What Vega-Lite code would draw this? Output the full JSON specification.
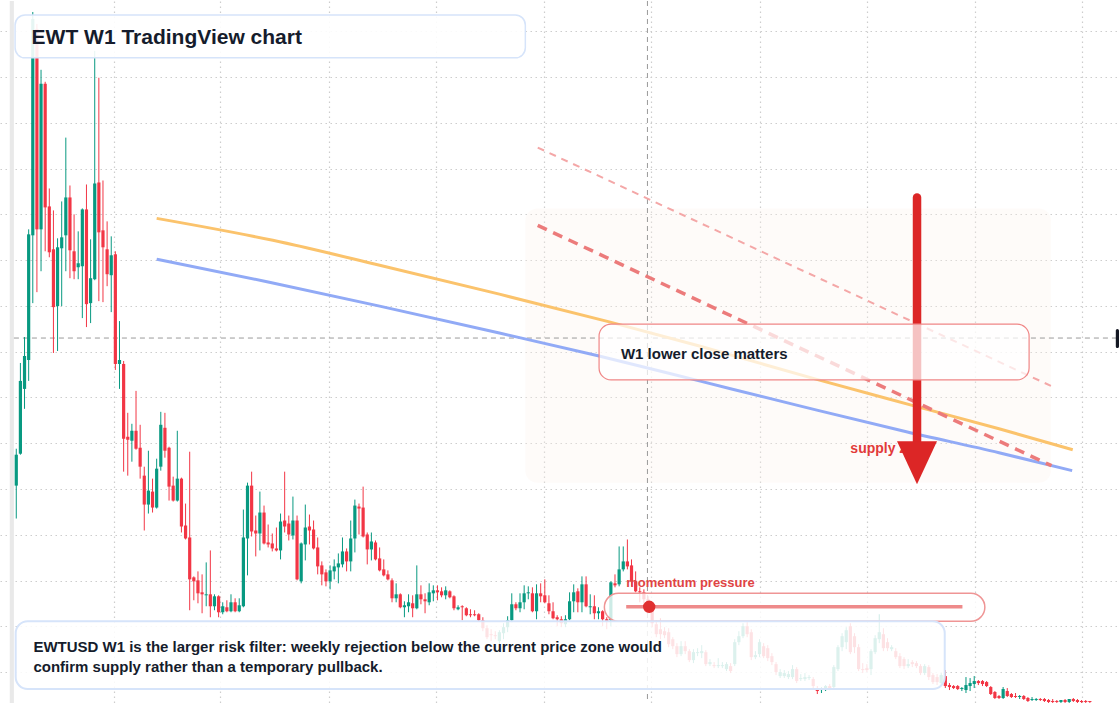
{
"$schema":"https://vega.github.io/schema/vega-lite/v6.json",
"width":1120,"height":704,"padding":0,
"autosize":{"type":"fit","contains":"padding"},
"background":"white",
"config":{"view":{"stroke":null},"axis":{"labels":false,"ticks":false,"domain":false,"grid":false}},
"datasets":{
"candles":[
{"d":"2020-07-20","o":2.18,"h":2.55,"l":1.85,"c":2.49},
{"d":"2020-07-27","o":2.50,"h":3.41,"l":2.49,"c":3.23},
{"d":"2020-08-03","o":3.15,"h":3.67,"l":2.95,"c":3.48},
{"d":"2020-08-10","o":3.44,"h":4.75,"l":3.23,"c":4.70},
{"d":"2020-08-17","o":4.69,"h":6.93,"l":4.01,"c":6.86},
{"d":"2020-08-24","o":6.76,"h":6.81,"l":4.12,"c":4.75},
{"d":"2020-08-31","o":4.75,"h":6.35,"l":4.33,"c":6.21},
{"d":"2020-09-07","o":6.21,"h":6.23,"l":4.53,"c":4.97},
{"d":"2020-09-14","o":4.98,"h":5.16,"l":4.47,"c":4.52},
{"d":"2020-09-21","o":4.55,"h":4.94,"l":3.51,"c":3.97},
{"d":"2020-09-28","o":3.98,"h":4.66,"l":3.53,"c":4.57},
{"d":"2020-10-05","o":4.56,"h":5.03,"l":3.98,"c":4.67},
{"d":"2020-10-12","o":4.69,"h":5.67,"l":4.33,"c":5.07},
{"d":"2020-10-19","o":5.07,"h":5.19,"l":4.26,"c":4.54},
{"d":"2020-10-26","o":4.53,"h":4.90,"l":4.25,"c":4.33},
{"d":"2020-11-02","o":4.37,"h":4.73,"l":4.25,"c":4.41},
{"d":"2020-11-09","o":4.38,"h":4.96,"l":3.86,"c":4.95},
{"d":"2020-11-16","o":4.95,"h":5.20,"l":3.77,"c":4.00},
{"d":"2020-11-23","o":4.01,"h":4.65,"l":3.81,"c":4.26},
{"d":"2020-11-30","o":4.25,"h":6.54,"l":4.24,"c":5.21},
{"d":"2020-12-07","o":5.22,"h":6.27,"l":4.03,"c":4.72},
{"d":"2020-12-14","o":4.74,"h":5.24,"l":4.02,"c":4.57},
{"d":"2020-12-21","o":4.55,"h":4.83,"l":4.18,"c":4.30},
{"d":"2020-12-28","o":4.29,"h":4.68,"l":3.92,"c":4.49},
{"d":"2021-01-04","o":4.50,"h":4.53,"l":3.34,"c":3.40},
{"d":"2021-01-11","o":3.40,"h":3.83,"l":3.15,"c":3.44},
{"d":"2021-01-18","o":3.40,"h":3.43,"l":2.32,"c":2.65},
{"d":"2021-01-25","o":2.67,"h":2.91,"l":2.28,"c":2.64},
{"d":"2021-02-01","o":2.63,"h":2.80,"l":2.42,"c":2.73},
{"d":"2021-02-08","o":2.73,"h":3.13,"l":2.54,"c":2.55},
{"d":"2021-02-15","o":2.56,"h":2.79,"l":2.25,"c":2.37},
{"d":"2021-02-22","o":2.28,"h":2.37,"l":1.73,"c":1.99},
{"d":"2021-03-01","o":1.99,"h":2.53,"l":1.90,"c":2.13},
{"d":"2021-03-08","o":2.12,"h":2.25,"l":1.91,"c":1.96},
{"d":"2021-03-15","o":1.96,"h":2.45,"l":1.95,"c":2.35},
{"d":"2021-03-22","o":2.37,"h":2.92,"l":2.33,"c":2.79},
{"d":"2021-03-29","o":2.76,"h":2.91,"l":2.46,"c":2.53},
{"d":"2021-04-05","o":2.56,"h":2.57,"l":2.03,"c":2.17},
{"d":"2021-04-12","o":2.18,"h":2.27,"l":2.02,"c":2.03},
{"d":"2021-04-19","o":2.03,"h":2.73,"l":2.02,"c":2.25},
{"d":"2021-04-26","o":2.25,"h":2.26,"l":1.71,"c":1.77},
{"d":"2021-05-03","o":1.78,"h":2.00,"l":1.64,"c":1.65},
{"d":"2021-05-10","o":1.66,"h":2.52,"l":0.93,"c":1.24},
{"d":"2021-05-17","o":1.26,"h":1.27,"l":1.03,"c":1.22},
{"d":"2021-05-24","o":1.23,"h":1.32,"l":1.00,"c":1.10},
{"d":"2021-05-31","o":1.11,"h":1.29,"l":0.90,"c":1.09},
{"d":"2021-06-07","o":1.08,"h":1.41,"l":0.97,"c":1.09},
{"d":"2021-06-14","o":1.09,"h":1.53,"l":0.86,"c":0.97},
{"d":"2021-06-21","o":0.97,"h":1.09,"l":0.93,"c":1.07},
{"d":"2021-06-28","o":1.07,"h":1.08,"l":0.86,"c":0.91},
{"d":"2021-07-05","o":0.91,"h":1.01,"l":0.89,"c":0.97},
{"d":"2021-07-12","o":0.96,"h":1.03,"l":0.91,"c":0.92},
{"d":"2021-07-19","o":0.92,"h":1.09,"l":0.91,"c":1.01},
{"d":"2021-07-26","o":1.01,"h":1.05,"l":0.91,"c":0.92},
{"d":"2021-08-02","o":0.92,"h":1.05,"l":0.91,"c":0.98},
{"d":"2021-08-09","o":0.97,"h":1.94,"l":0.96,"c":1.66},
{"d":"2021-08-16","o":1.65,"h":2.21,"l":1.28,"c":2.18},
{"d":"2021-08-23","o":2.18,"h":2.32,"l":1.67,"c":1.72},
{"d":"2021-08-30","o":1.73,"h":1.88,"l":1.47,"c":1.70},
{"d":"2021-09-06","o":1.70,"h":2.12,"l":1.53,"c":1.91},
{"d":"2021-09-13","o":1.91,"h":1.98,"l":1.59,"c":1.60},
{"d":"2021-09-20","o":1.61,"h":1.79,"l":1.56,"c":1.59},
{"d":"2021-09-27","o":1.60,"h":1.70,"l":1.52,"c":1.55},
{"d":"2021-10-04","o":1.55,"h":1.76,"l":1.52,"c":1.53},
{"d":"2021-10-11","o":1.53,"h":1.90,"l":1.44,"c":1.82},
{"d":"2021-10-18","o":1.83,"h":2.32,"l":1.71,"c":1.77},
{"d":"2021-10-25","o":1.80,"h":1.88,"l":1.63,"c":1.69},
{"d":"2021-11-01","o":1.68,"h":2.07,"l":1.64,"c":1.83},
{"d":"2021-11-08","o":1.83,"h":1.88,"l":1.23,"c":1.24},
{"d":"2021-11-15","o":1.22,"h":1.61,"l":1.20,"c":1.60},
{"d":"2021-11-22","o":1.59,"h":1.99,"l":1.43,"c":1.76},
{"d":"2021-11-29","o":1.77,"h":1.89,"l":1.59,"c":1.73},
{"d":"2021-12-06","o":1.74,"h":1.83,"l":1.54,"c":1.55},
{"d":"2021-12-13","o":1.56,"h":1.66,"l":1.29,"c":1.37},
{"d":"2021-12-20","o":1.38,"h":1.42,"l":1.18,"c":1.29},
{"d":"2021-12-27","o":1.31,"h":1.34,"l":1.17,"c":1.22},
{"d":"2022-01-03","o":1.22,"h":1.38,"l":1.14,"c":1.33},
{"d":"2022-01-10","o":1.32,"h":1.44,"l":1.24,"c":1.37},
{"d":"2022-01-17","o":1.36,"h":1.50,"l":1.20,"c":1.40},
{"d":"2022-01-24","o":1.39,"h":1.66,"l":1.36,"c":1.52},
{"d":"2022-01-31","o":1.52,"h":1.55,"l":1.32,"c":1.42},
{"d":"2022-02-07","o":1.42,"h":1.83,"l":1.32,"c":1.65},
{"d":"2022-02-14","o":1.65,"h":2.04,"l":1.51,"c":1.98},
{"d":"2022-02-21","o":1.97,"h":2.00,"l":1.69,"c":1.95},
{"d":"2022-02-28","o":1.96,"h":2.17,"l":1.66,"c":1.67},
{"d":"2022-03-07","o":1.69,"h":1.71,"l":1.39,"c":1.54},
{"d":"2022-03-14","o":1.54,"h":1.71,"l":1.43,"c":1.62},
{"d":"2022-03-21","o":1.61,"h":1.63,"l":1.43,"c":1.44},
{"d":"2022-03-28","o":1.45,"h":1.56,"l":1.32,"c":1.33},
{"d":"2022-04-04","o":1.34,"h":1.44,"l":1.27,"c":1.28},
{"d":"2022-04-11","o":1.29,"h":1.33,"l":1.23,"c":1.24},
{"d":"2022-04-18","o":1.23,"h":1.25,"l":1.01,"c":1.05},
{"d":"2022-04-25","o":1.05,"h":1.20,"l":1.01,"c":1.09},
{"d":"2022-05-02","o":1.09,"h":1.10,"l":0.95,"c":0.96},
{"d":"2022-05-09","o":0.96,"h":1.02,"l":0.86,"c":0.98},
{"d":"2022-05-16","o":0.97,"h":1.09,"l":0.91,"c":1.01},
{"d":"2022-05-23","o":1.00,"h":1.08,"l":0.86,"c":0.95},
{"d":"2022-05-30","o":0.95,"h":1.38,"l":0.94,"c":1.09},
{"d":"2022-06-06","o":1.09,"h":1.18,"l":0.99,"c":1.04},
{"d":"2022-06-13","o":1.04,"h":1.10,"l":0.90,"c":1.02},
{"d":"2022-06-20","o":1.01,"h":1.20,"l":0.98,"c":1.11},
{"d":"2022-06-27","o":1.10,"h":1.18,"l":1.02,"c":1.13},
{"d":"2022-07-04","o":1.13,"h":1.18,"l":1.03,"c":1.11},
{"d":"2022-07-11","o":1.12,"h":1.16,"l":1.06,"c":1.08},
{"d":"2022-07-18","o":1.08,"h":1.17,"l":1.04,"c":1.13},
{"d":"2022-07-25","o":1.12,"h":1.13,"l":1.05,"c":1.06},
{"d":"2022-08-01","o":1.07,"h":1.08,"l":0.93,"c":0.95},
{"d":"2022-08-08","o":0.94,"h":0.98,"l":0.93,"c":0.96},
{"d":"2022-08-15","o":0.97,"h":0.98,"l":0.83,"c":0.96},
{"d":"2022-08-22","o":0.95,"h":0.96,"l":0.87,"c":0.88},
{"d":"2022-08-29","o":0.89,"h":0.94,"l":0.86,"c":0.88},
{"d":"2022-09-05","o":0.89,"h":0.93,"l":0.87,"c":0.88},
{"d":"2022-09-12","o":0.89,"h":0.90,"l":0.82,"c":0.83},
{"d":"2022-09-19","o":0.83,"h":0.86,"l":0.72,"c":0.75},
{"d":"2022-09-26","o":0.75,"h":0.78,"l":0.64,"c":0.66},
{"d":"2022-10-03","o":0.69,"h":0.74,"l":0.62,"c":0.68},
{"d":"2022-10-10","o":0.68,"h":0.72,"l":0.64,"c":0.67},
{"d":"2022-10-17","o":0.62,"h":0.73,"l":0.58,"c":0.71},
{"d":"2022-10-24","o":0.70,"h":0.80,"l":0.64,"c":0.76},
{"d":"2022-10-31","o":0.76,"h":0.87,"l":0.71,"c":0.83},
{"d":"2022-11-07","o":0.83,"h":1.10,"l":0.81,"c":0.99},
{"d":"2022-11-14","o":0.99,"h":1.01,"l":0.93,"c":0.95},
{"d":"2022-11-21","o":0.95,"h":1.10,"l":0.91,"c":1.01},
{"d":"2022-11-28","o":1.01,"h":1.18,"l":0.94,"c":1.10},
{"d":"2022-12-05","o":1.10,"h":1.17,"l":1.04,"c":1.11},
{"d":"2022-12-12","o":1.10,"h":1.16,"l":0.91,"c":0.92},
{"d":"2022-12-19","o":0.92,"h":1.19,"l":0.84,"c":1.10},
{"d":"2022-12-26","o":1.10,"h":1.20,"l":1.01,"c":1.07},
{"d":"2023-01-02","o":1.08,"h":1.24,"l":1.00,"c":1.01},
{"d":"2023-01-09","o":1.00,"h":1.08,"l":0.89,"c":0.92},
{"d":"2023-01-16","o":0.92,"h":1.01,"l":0.84,"c":0.85},
{"d":"2023-01-23","o":0.86,"h":0.88,"l":0.77,"c":0.84},
{"d":"2023-01-30","o":0.84,"h":0.87,"l":0.76,"c":0.80},
{"d":"2023-02-06","o":0.79,"h":0.88,"l":0.76,"c":0.84},
{"d":"2023-02-13","o":0.84,"h":1.11,"l":0.83,"c":1.02},
{"d":"2023-02-20","o":1.02,"h":1.19,"l":0.91,"c":1.11},
{"d":"2023-02-27","o":1.12,"h":1.15,"l":0.91,"c":1.01},
{"d":"2023-03-06","o":1.01,"h":1.27,"l":0.91,"c":1.19},
{"d":"2023-03-13","o":1.19,"h":1.27,"l":0.96,"c":0.97},
{"d":"2023-03-20","o":0.96,"h":1.09,"l":0.89,"c":0.97},
{"d":"2023-03-27","o":0.97,"h":1.08,"l":0.84,"c":0.90},
{"d":"2023-04-03","o":0.90,"h":0.96,"l":0.84,"c":0.92},
{"d":"2023-04-10","o":0.92,"h":0.93,"l":0.77,"c":0.84},
{"d":"2023-04-17","o":0.84,"h":0.86,"l":0.74,"c":0.82},
{"d":"2023-04-24","o":0.83,"h":1.22,"l":0.77,"c":1.21},
{"d":"2023-05-01","o":1.20,"h":1.29,"l":1.16,"c":1.18},
{"d":"2023-05-08","o":1.19,"h":1.57,"l":1.17,"c":1.34},
{"d":"2023-05-15","o":1.34,"h":1.57,"l":1.32,"c":1.42},
{"d":"2023-05-22","o":1.42,"h":1.64,"l":1.34,"c":1.37},
{"d":"2023-05-29","o":1.38,"h":1.44,"l":1.17,"c":1.22},
{"d":"2023-06-05","o":1.22,"h":1.32,"l":1.11,"c":1.12},
{"d":"2023-06-12","o":1.12,"h":1.16,"l":1.01,"c":1.11},
{"d":"2023-06-19","o":1.11,"h":1.14,"l":0.98,"c":1.04},
{"d":"2023-06-26","o":1.04,"h":1.07,"l":0.90,"c":0.94},
{"d":"2023-07-03","o":0.94,"h":0.96,"l":0.76,"c":0.80},
{"d":"2023-07-10","o":0.79,"h":0.83,"l":0.66,"c":0.69},
{"d":"2023-07-17","o":0.74,"h":0.85,"l":0.64,"c":0.69},
{"d":"2023-07-24","o":0.72,"h":0.76,"l":0.65,"c":0.68},
{"d":"2023-07-31","o":0.71,"h":0.75,"l":0.56,"c":0.59},
{"d":"2023-08-07","o":0.64,"h":0.66,"l":0.54,"c":0.57},
{"d":"2023-08-14","o":0.57,"h":0.60,"l":0.46,"c":0.49},
{"d":"2023-08-21","o":0.49,"h":0.62,"l":0.47,"c":0.57},
{"d":"2023-08-28","o":0.57,"h":0.62,"l":0.49,"c":0.52},
{"d":"2023-09-04","o":0.52,"h":0.54,"l":0.41,"c":0.43},
{"d":"2023-09-11","o":0.43,"h":0.54,"l":0.40,"c":0.51},
{"d":"2023-09-18","o":0.50,"h":0.55,"l":0.47,"c":0.51},
{"d":"2023-09-25","o":0.50,"h":0.58,"l":0.45,"c":0.52},
{"d":"2023-10-02","o":0.51,"h":0.53,"l":0.37,"c":0.39},
{"d":"2023-10-09","o":0.39,"h":0.44,"l":0.37,"c":0.41},
{"d":"2023-10-16","o":0.38,"h":0.41,"l":0.35,"c":0.37},
{"d":"2023-10-23","o":0.37,"h":0.45,"l":0.35,"c":0.38},
{"d":"2023-10-30","o":0.37,"h":0.41,"l":0.35,"c":0.38},
{"d":"2023-11-06","o":0.34,"h":0.41,"l":0.32,"c":0.39},
{"d":"2023-11-13","o":0.37,"h":0.40,"l":0.30,"c":0.32},
{"d":"2023-11-20","o":0.39,"h":0.64,"l":0.37,"c":0.61},
{"d":"2023-11-27","o":0.61,"h":0.72,"l":0.58,"c":0.67},
{"d":"2023-12-04","o":0.67,"h":0.80,"l":0.65,"c":0.77},
{"d":"2023-12-11","o":0.77,"h":0.81,"l":0.66,"c":0.69},
{"d":"2023-12-18","o":0.71,"h":0.74,"l":0.43,"c":0.46},
{"d":"2023-12-25","o":0.46,"h":0.52,"l":0.44,"c":0.48},
{"d":"2024-01-01","o":0.49,"h":0.64,"l":0.46,"c":0.61},
{"d":"2024-01-08","o":0.57,"h":0.60,"l":0.45,"c":0.47},
{"d":"2024-01-15","o":0.55,"h":0.58,"l":0.42,"c":0.45},
{"d":"2024-01-22","o":0.47,"h":0.50,"l":0.38,"c":0.41},
{"d":"2024-01-29","o":0.39,"h":0.41,"l":0.28,"c":0.31},
{"d":"2024-02-05","o":0.27,"h":0.34,"l":0.25,"c":0.31},
{"d":"2024-02-12","o":0.27,"h":0.33,"l":0.25,"c":0.30},
{"d":"2024-02-19","o":0.26,"h":0.32,"l":0.24,"c":0.29},
{"d":"2024-02-26","o":0.26,"h":0.38,"l":0.24,"c":0.34},
{"d":"2024-03-04","o":0.34,"h":0.36,"l":0.20,"c":0.22},
{"d":"2024-03-11","o":0.24,"h":0.29,"l":0.22,"c":0.25},
{"d":"2024-03-18","o":0.24,"h":0.30,"l":0.22,"c":0.26},
{"d":"2024-03-25","o":0.25,"h":0.28,"l":0.23,"c":0.26},
{"d":"2024-04-01","o":0.24,"h":0.26,"l":0.15,"c":0.17},
{"d":"2024-04-08","o":0.15,"h":0.17,"l":0.09,"c":0.12},
{"d":"2024-04-15","o":0.13,"h":0.16,"l":0.10,"c":0.14},
{"d":"2024-04-22","o":0.13,"h":0.18,"l":0.12,"c":0.17},
{"d":"2024-04-29","o":0.17,"h":0.19,"l":0.13,"c":0.15},
{"d":"2024-05-06","o":0.16,"h":0.38,"l":0.14,"c":0.36},
{"d":"2024-05-13","o":0.34,"h":0.58,"l":0.32,"c":0.56},
{"d":"2024-05-20","o":0.56,"h":0.70,"l":0.52,"c":0.67},
{"d":"2024-05-27","o":0.61,"h":0.76,"l":0.54,"c":0.73},
{"d":"2024-06-03","o":0.77,"h":0.80,"l":0.49,"c":0.51},
{"d":"2024-06-10","o":0.67,"h":0.70,"l":0.50,"c":0.56},
{"d":"2024-06-17","o":0.56,"h":0.59,"l":0.32,"c":0.34},
{"d":"2024-06-24","o":0.34,"h":0.40,"l":0.30,"c":0.33},
{"d":"2024-07-01","o":0.35,"h":0.39,"l":0.31,"c":0.33},
{"d":"2024-07-08","o":0.34,"h":0.54,"l":0.28,"c":0.52},
{"d":"2024-07-15","o":0.51,"h":0.68,"l":0.49,"c":0.65},
{"d":"2024-07-22","o":0.64,"h":0.89,"l":0.60,"c":0.71},
{"d":"2024-07-29","o":0.69,"h":0.75,"l":0.52,"c":0.55},
{"d":"2024-08-05","o":0.61,"h":0.65,"l":0.52,"c":0.55},
{"d":"2024-08-12","o":0.54,"h":0.58,"l":0.52,"c":0.56},
{"d":"2024-08-19","o":0.52,"h":0.55,"l":0.44,"c":0.46},
{"d":"2024-08-26","o":0.47,"h":0.50,"l":0.35,"c":0.37},
{"d":"2024-09-02","o":0.44,"h":0.46,"l":0.34,"c":0.37},
{"d":"2024-09-09","o":0.37,"h":0.44,"l":0.35,"c":0.39},
{"d":"2024-09-16","o":0.41,"h":0.43,"l":0.36,"c":0.39},
{"d":"2024-09-23","o":0.40,"h":0.42,"l":0.35,"c":0.37},
{"d":"2024-09-30","o":0.37,"h":0.39,"l":0.28,"c":0.30},
{"d":"2024-10-07","o":0.30,"h":0.39,"l":0.28,"c":0.37},
{"d":"2024-10-14","o":0.36,"h":0.38,"l":0.23,"c":0.26},
{"d":"2024-10-21","o":0.28,"h":0.30,"l":0.19,"c":0.21},
{"d":"2024-10-28","o":0.26,"h":0.29,"l":0.18,"c":0.21},
{"d":"2024-11-04","o":0.20,"h":0.30,"l":0.18,"c":0.28},
{"d":"2024-11-11","o":0.27,"h":0.33,"l":0.15,"c":0.17},
{"d":"2024-11-18","o":0.18,"h":0.20,"l":0.13,"c":0.16},
{"d":"2024-11-25","o":0.17,"h":0.18,"l":0.14,"c":0.15},
{"d":"2024-12-02","o":0.17,"h":0.18,"l":0.13,"c":0.14},
{"d":"2024-12-09","o":0.14,"h":0.16,"l":0.12,"c":0.15},
{"d":"2024-12-16","o":0.13,"h":0.26,"l":0.10,"c":0.18},
{"d":"2024-12-23","o":0.17,"h":0.25,"l":0.12,"c":0.20},
{"d":"2024-12-30","o":0.19,"h":0.27,"l":0.15,"c":0.22},
{"d":"2025-01-06","o":0.22,"h":0.23,"l":0.18,"c":0.20},
{"d":"2025-01-13","o":0.22,"h":0.23,"l":0.17,"c":0.19},
{"d":"2025-01-20","o":0.21,"h":0.22,"l":0.16,"c":0.17},
{"d":"2025-01-27","o":0.16,"h":0.17,"l":0.08,"c":0.09},
{"d":"2025-02-03","o":0.11,"h":0.12,"l":0.04,"c":0.05},
{"d":"2025-02-10","o":0.07,"h":0.08,"l":0.04,"c":0.05},
{"d":"2025-02-17","o":0.05,"h":0.16,"l":0.04,"c":0.14},
{"d":"2025-02-24","o":0.12,"h":0.15,"l":0.06,"c":0.07},
{"d":"2025-03-03","o":0.09,"h":0.10,"l":0.05,"c":0.06},
{"d":"2025-03-10","o":0.07,"h":0.10,"l":0.05,"c":0.06},
{"d":"2025-03-17","o":0.06,"h":0.08,"l":0.04,"c":0.07},
{"d":"2025-03-24","o":0.07,"h":0.08,"l":0.03,"c":0.04},
{"d":"2025-03-31","o":0.05,"h":0.06,"l":0.01,"c":0.02},
{"d":"2025-04-07","o":0.03,"h":0.06,"l":0.02,"c":0.04},
{"d":"2025-04-14","o":0.03,"h":0.05,"l":0.02,"c":0.04},
{"d":"2025-04-21","o":0.04,"h":0.05,"l":0.02,"c":0.03},
{"d":"2025-04-28","o":0.04,"h":0.05,"l":0.01,"c":0.02},
{"d":"2025-05-05","o":0.03,"h":0.04,"l":0.00,"c":0.01},
{"d":"2025-05-12","o":0.02,"h":0.04,"l":0.00,"c":0.01},
{"d":"2025-05-19","o":0.02,"h":0.03,"l":0.00,"c":0.01},
{"d":"2025-05-26","o":0.01,"h":0.03,"l":0.00,"c":0.03},
{"d":"2025-06-02","o":0.03,"h":0.04,"l":0.00,"c":0.01},
{"d":"2025-06-09","o":0.01,"h":0.04,"l":0.00,"c":0.04},
{"d":"2025-06-16","o":0.04,"h":0.05,"l":0.01,"c":0.02},
{"d":"2025-06-23","o":0.03,"h":0.04,"l":0.00,"c":0.01},
{"d":"2025-06-30","o":0.02,"h":0.03,"l":0.00,"c":0.01},
{"d":"2025-07-07","o":0.02,"h":0.03,"l":0.00,"c":0.01},
{"d":"2025-07-14","o":0.02,"h":0.02,"l":0.00,"c":0.01}
]},
"layer":[
{"data":{"values":[{"d":"2020-07-09","d2":"2020-07-16","p":0,"p2":7.04}]},
 "mark":{"type":"rect","fill":"#e9e9e9"},
 "encoding":{
  "x":{"field":"d","type":"temporal","title":null,
   "scale":{"type":"utc","domain":[{"year":2020,"month":6,"date":22,"hours":10,"utc":true},{"year":2025,"month":9,"date":1,"hours":10,"utc":true}]},
   "axis":{"grid":true,"gridDash":[1.5,3.5],"gridColor":"#cdcdcd","gridWidth":1.2,
     "values":[{"year":2021,"month":1,"date":1,"utc":true},{"year":2021,"month":7,"date":1,"utc":true},{"year":2022,"month":1,"date":1,"utc":true},{"year":2022,"month":7,"date":1,"utc":true},{"year":2023,"month":1,"date":1,"utc":true},{"year":2023,"month":7,"date":1,"utc":true},{"year":2024,"month":1,"date":1,"utc":true},{"year":2024,"month":7,"date":1,"utc":true},{"year":2025,"month":1,"date":1,"utc":true},{"year":2025,"month":7,"date":1,"utc":true}]}},
  "x2":{"field":"d2","title":null},
  "y":{"field":"p","type":"quantitative","title":null,
   "scale":{"domain":[0,7.04],"nice":false,"zero":false},
   "axis":{"grid":true,"gridDash":[1.5,3.5],"gridColor":"#cdcdcd","gridWidth":1.2,
     "values":[0.31,0.769,1.228,1.687,2.146,2.605,3.064,3.523,3.982,4.441,4.9,5.359,5.818,6.277,6.736]}},
  "y2":{"field":"p2","title":null}}},
{"data":{"values":[{"d":"2022-11-30","d2":"2025-05-09","p":2.21,"p2":4.96}]},
 "mark":{"type":"rect","fill":"#fdf3ea","fillOpacity":0.3,"cornerRadius":12},
 "encoding":{"x":{"field":"d","type":"temporal","title":null},"x2":{"field":"d2","title":null},
  "y":{"field":"p","type":"quantitative","title":null},"y2":{"field":"p2","title":null}}},
{"data":{"values":[{"d":"2023-06-25T00:00:00Z"}]},
 "mark":{"type":"rule","stroke":"#9a9a9a","strokeDash":[5,4],"strokeWidth":1},
 "encoding":{"x":{"field":"d","type":"temporal","title":null}}},
{"data":{"values":[{"d":"2020-07-16","d2":"2025-09-01T10:00:00Z","p":3.66}]},
 "mark":{"type":"rule","stroke":"#9a9a9a","strokeDash":[5,4],"strokeWidth":1},
 "encoding":{"x":{"field":"d","type":"temporal","title":null},"x2":{"field":"d2","title":null},
  "y":{"field":"p","type":"quantitative","title":null}}},
{"data":{"name":"candles"},
 "mark":{"type":"rule","strokeWidth":1},
 "encoding":{"x":{"field":"d","type":"temporal","title":null},
  "y":{"field":"l","type":"quantitative","title":null},"y2":{"field":"h","title":null},
  "color":{"condition":{"test":"datum.c >= datum.o","value":"#089981"},"value":"#f23645"}}},
{"data":{"name":"candles"},
 "mark":{"type":"rule","strokeWidth":3.2},
 "encoding":{"x":{"field":"d","type":"temporal","title":null},
  "y":{"field":"o","type":"quantitative","title":null},"y2":{"field":"c","title":null},
  "color":{"condition":{"test":"datum.c >= datum.o","value":"#089981"},"value":"#f23645"}}},
{"data":{"values":[
  {"d":"2021-03-15","p":4.86},{"d":"2021-09-28","p":4.64},{"d":"2022-03-28","p":4.39},{"d":"2022-10-17","p":4.10},{"d":"2023-04-23","p":3.82},{"d":"2023-09-21","p":3.58},{"d":"2024-04-04","p":3.25},{"d":"2024-09-19","p":2.98},{"d":"2025-02-10","p":2.75},{"d":"2025-06-15","p":2.54}]},
 "mark":{"type":"line","stroke":"#fbc36c","strokeWidth":3,"interpolate":"monotone"},
 "encoding":{"x":{"field":"d","type":"temporal","title":null},"y":{"field":"p","type":"quantitative","title":null}}},
{"data":{"values":[
  {"d":"2021-03-15","p":4.45},{"d":"2021-09-22","p":4.22},{"d":"2022-03-28","p":3.98},{"d":"2022-10-17","p":3.71},{"d":"2023-04-04","p":3.48},{"d":"2023-09-21","p":3.23},{"d":"2024-03-09","p":2.98},{"d":"2024-09-06","p":2.72},{"d":"2025-02-10","p":2.51},{"d":"2025-06-14","p":2.33}]},
 "mark":{"type":"line","stroke":"#91aaf6","strokeWidth":3,"interpolate":"monotone"},
 "encoding":{"x":{"field":"d","type":"temporal","title":null},"y":{"field":"p","type":"quantitative","title":null}}},
{"data":{"values":[{"d":"2022-12-21","d2":"2025-05-09","p":5.57,"p2":3.18}]},
 "mark":{"type":"rule","stroke":"#f4a7a7","strokeWidth":2,"strokeDash":[7,6]},
 "encoding":{"x":{"field":"d","type":"temporal","title":null},"x2":{"field":"d2","title":null},
  "y":{"field":"p","type":"quantitative","title":null},"y2":{"field":"p2","title":null}}},
{"data":{"values":[{"d":"2022-12-21","d2":"2025-05-10","p":4.79,"p2":2.38}]},
 "mark":{"type":"rule","stroke":"#ec7b7b","strokeWidth":3.5,"strokeDash":[10,7]},
 "encoding":{"x":{"field":"d","type":"temporal","title":null},"x2":{"field":"d2","title":null},
  "y":{"field":"p","type":"quantitative","title":null},"y2":{"field":"p2","title":null}}},
{"data":{"values":[{"d":"2024-06-03","p":2.507,"t":"supply zone"}]},
 "mark":{"type":"text","align":"left","baseline":"alphabetic","font":"Liberation Sans","fontWeight":"bold","fontSize":14,"fill":"#e23a3a"},
 "encoding":{"x":{"field":"d","type":"temporal","title":null},"y":{"field":"p","type":"quantitative","title":null},"text":{"field":"t"}}},
{"data":{"values":[{"d":"2024-09-24","p":5.07,"p2":2.62}]},
 "mark":{"type":"rule","stroke":"#dc2626","strokeWidth":8.5,"strokeCap":"round"},
 "encoding":{"x":{"field":"d","type":"temporal","title":null},
  "y":{"field":"p","type":"quantitative","title":null},"y2":{"field":"p2","title":null}}},
{"data":{"values":[{"d":"2024-09-24","p":2.41}]},
 "mark":{"type":"point","shape":"M-0.93,-1L0.93,-1L0,1Z","size":1849,"filled":true,"fill":"#dc2626","opacity":1,"strokeWidth":0},
 "encoding":{"x":{"field":"d","type":"temporal","title":null},"y":{"field":"p","type":"quantitative","title":null}}},
{"data":{"values":[{"d":"2023-04-04","d2":"2025-04-02","p":3.24,"p2":3.80}]},
 "mark":{"type":"rect","fill":"#ffffff","fillOpacity":0.72,"stroke":"#f08686","strokeWidth":1.2,"cornerRadius":12},
 "encoding":{"x":{"field":"d","type":"temporal","title":null},"x2":{"field":"d2","title":null},
  "y":{"field":"p","type":"quantitative","title":null},"y2":{"field":"p2","title":null}}},
{"data":{"values":[{"d":"2023-04-13","d2":"2025-01-17","p":0.82,"p2":1.10}]},
 "mark":{"type":"rect","fill":"#ffffff","fillOpacity":0.8,"stroke":"#ef9595","strokeWidth":1.5,"cornerRadius":14},
 "encoding":{"x":{"field":"d","type":"temporal","title":null},"x2":{"field":"d2","title":null},
  "y":{"field":"p","type":"quantitative","title":null},"y2":{"field":"p2","title":null}}},
{"data":{"values":[{"d":"2020-07-19","d2":"2024-11-10","p":0.14,"p2":0.82}]},
 "mark":{"type":"rect","fill":"#ffffff","fillOpacity":0.86,"stroke":"#d6e4fa","strokeWidth":2,"cornerRadius":12},
 "encoding":{"x":{"field":"d","type":"temporal","title":null},"x2":{"field":"d2","title":null},
  "y":{"field":"p","type":"quantitative","title":null},"y2":{"field":"p2","title":null}}},
{"data":{"values":[{"d":"2020-07-18","d2":"2022-11-30","p":6.47,"p2":6.90}]},
 "mark":{"type":"rect","fill":"#ffffff","fillOpacity":0.9,"stroke":"#d6e4fa","strokeWidth":1.5,"cornerRadius":10},
 "encoding":{"x":{"field":"d","type":"temporal","title":null},"x2":{"field":"d2","title":null},
  "y":{"field":"p","type":"quantitative","title":null},"y2":{"field":"p2","title":null}}},
{"data":{"values":[
  {"d":"2020-08-15","p":6.607,"t":"EWT W1 TradingView chart","s":21},
  {"d":"2023-05-11","p":3.45,"t":"W1 lower close matters","s":15}]},
 "mark":{"type":"text","align":"left","baseline":"alphabetic","font":"Liberation Sans","fontWeight":"bold","fill":"#151c2c"},
 "encoding":{"x":{"field":"d","type":"temporal","title":null},"y":{"field":"p","type":"quantitative","title":null},
  "text":{"field":"t"},"size":{"field":"s","type":"quantitative","scale":null,"legend":null}}},
{"data":{"values":[{"d":"2020-08-18","p":0.507,"t":"EWTUSD W1 is the larger risk filter: weekly rejection below the current price zone would\nconfirm supply rather than a temporary pullback."}]},
 "mark":{"type":"text","align":"left","baseline":"alphabetic","font":"Liberation Sans","fontWeight":"bold","fontSize":15,"lineBreak":"\n","lineHeight":20,"fill":"#151c2c"},
 "encoding":{"x":{"field":"d","type":"temporal","title":null},"y":{"field":"p","type":"quantitative","title":null},"text":{"field":"t"}}},
{"data":{"values":[{"d":"2023-05-20","p":1.16,"t":"momentum pressure"}]},
 "mark":{"type":"text","align":"left","baseline":"alphabetic","font":"Liberation Sans","fontWeight":"bold","fontSize":13,"fill":"#e04444"},
 "encoding":{"x":{"field":"d","type":"temporal","title":null},"y":{"field":"p","type":"quantitative","title":null},"text":{"field":"t"}}},
{"data":{"values":[{"d":"2023-05-20","d2":"2024-12-10","p":0.965}]},
 "mark":{"type":"rule","stroke":"#ee8a8a","strokeWidth":3.5},
 "encoding":{"x":{"field":"d","type":"temporal","title":null},"x2":{"field":"d2","title":null},
  "y":{"field":"p","type":"quantitative","title":null}}},
{"data":{"values":[{"d":"2023-06-28","p":0.965}]},
 "mark":{"type":"point","shape":"circle","size":154,"filled":true,"fill":"#e03030","opacity":1,"strokeWidth":0},
 "encoding":{"x":{"field":"d","type":"temporal","title":null},"y":{"field":"p","type":"quantitative","title":null}}},
{"data":{"values":[{"d":"2025-08-27","d2":"2025-09-01T10:00:00Z","p":3.56,"p2":3.75}]},
 "mark":{"type":"rect","fill":"#131722","cornerRadius":3},
 "encoding":{"x":{"field":"d","type":"temporal","title":null},"x2":{"field":"d2","title":null},
  "y":{"field":"p","type":"quantitative","title":null},"y2":{"field":"p2","title":null}}}
]
}
